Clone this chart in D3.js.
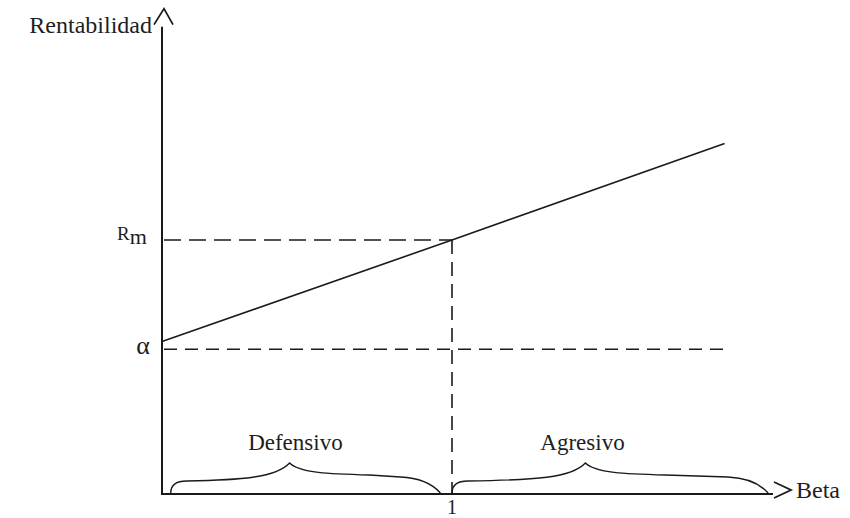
<!DOCTYPE html>
<html>
<head>
<meta charset="utf-8">
<script src="https://cdn.jsdelivr.net/npm/d3@7"></script>
<style>
  html, body { margin: 0; padding: 0; background: #fff; }
  svg { display: block; }
  text { font-family: "Liberation Serif", "DejaVu Serif", serif; fill: #1e1e1e; }
</style>
</head>
<body>
<svg id="chart" width="850" height="518"></svg>
<script>
// ---- data ----
const betaValues   = [0, 1, 1.94];        // beta along the security market line
const returnValues = [0.6, 1.0, 1.38];    // rentabilidad (Rm = 1)
const alphaLevel   = 0.57;                // alpha level (dashed)
const marketReturn = 1.0;                 // Rm
const marketBeta   = 1;                   // beta of the market
const alphaEndBeta = 1.94;
const braceNames   = ["Defensivo", "Agresivo"];
const braceStart   = [0.03, 1.0];
const braceCusp    = [0.44, 1.46];
const braceEnd     = [0.96, 2.09];
const braceLabelX  = [0.46, 1.45];
const yTickLabels  = ["α", "R", "1"];     // α, Rm, and beta 1
const axisLabels   = ["Rentabilidad", "Beta"];

// ---- scales ----
const svg = d3.select("#chart");
const x = d3.scaleLinear().domain([0, 1]).range([162, 452]);
const y = d3.scaleLinear().domain([0, 1]).range([494, 240]);
const xMax = 2.107, yMax = 1.84;
const ink = "#1a1a1a";

// axes
svg.append("line").attr("x1", x(0)).attr("x2", x(0)).attr("y1", y(0) + 1).attr("y2", y(yMax))
  .attr("stroke", ink).attr("stroke-width", 2);
svg.append("line").attr("x1", x(0)).attr("x2", x(xMax)).attr("y1", y(0)).attr("y2", y(0))
  .attr("stroke", ink).attr("stroke-width", 2);

// y arrow head (^)
svg.append("path")
  .attr("d", `M${x(0) - 8},${y(yMax) - 2} L${x(0) + 2},${y(yMax) - 18} L${x(0) + 11},${y(yMax) - 2}`)
  .attr("fill", "none").attr("stroke", ink).attr("stroke-width", 1.8);
// x arrow head (>)
const xa = x(xMax);
svg.append("path")
  .attr("d", `M${xa + 1},${y(0) - 12} L${xa + 18},${y(0) - 4} L${xa + 1},${y(0) + 4}`)
  .attr("fill", "none").attr("stroke", ink).attr("stroke-width", 1.8);

// dashed references
svg.append("line").attr("x1", x(0) + 2).attr("x2", x(marketBeta)).attr("y1", y(marketReturn)).attr("y2", y(marketReturn))
  .attr("stroke", ink).attr("stroke-width", 1.6).attr("stroke-dasharray", "17,8");
svg.append("line").attr("x1", x(0) + 2).attr("x2", x(alphaEndBeta)).attr("y1", y(alphaLevel)).attr("y2", y(alphaLevel))
  .attr("stroke", ink).attr("stroke-width", 1.5).attr("stroke-dasharray", "13,8");
svg.append("line").attr("x1", x(marketBeta)).attr("x2", x(marketBeta)).attr("y1", y(marketReturn)).attr("y2", y(0))
  .attr("stroke", ink).attr("stroke-width", 1.6).attr("stroke-dasharray", "14,8");

// security market line
const line = d3.line().x((d, i) => x(betaValues[i])).y(d => y(d));
svg.append("path").datum(returnValues).attr("d", line)
  .attr("fill", "none").attr("stroke", ink).attr("stroke-width", 1.6);

// braces
function bracePath(x0, xm, x1, y0) {
  return `M${x0},${y0} C${x0},${y0 - 9} ${x0 + 6},${y0 - 12} ${x0 + 16},${y0 - 12} ` +
         `C${xm - 50},${y0 - 13} ${xm - 14},${y0 - 15} ${xm},${y0 - 30} ` +
         `C${xm + 10},${y0 - 20} ${xm + 40},${y0 - 19} ${xm + 80},${y0 - 18} ` +
         `L${x1 - 40},${y0 - 16} C${x1 - 18},${y0 - 15} ${x1 - 7},${y0 - 8} ${x1},${y0}`;
}
braceNames.forEach((name, i) => {
  svg.append("path").attr("d", bracePath(x(braceStart[i]), x(braceCusp[i]), x(braceEnd[i]), y(0) - 1))
    .attr("fill", "none").attr("stroke", ink).attr("stroke-width", 1.4);
  svg.append("text").attr("x", x(braceLabelX[i])).attr("y", 450)
    .attr("text-anchor", "middle").attr("font-size", 23).text(name);
});

// axis labels
svg.append("text").attr("x", x(0) - 10).attr("y", 33).attr("text-anchor", "end")
  .attr("font-size", 24).text(axisLabels[0]);
svg.append("text").attr("x", xa + 23).attr("y", 498).attr("font-size", 24).text(axisLabels[1]);

// tick labels
svg.append("text").attr("x", x(0) - 19).attr("y", y(alphaLevel) + 5).attr("text-anchor", "middle")
  .attr("font-size", 26).text(yTickLabels[0]);
const rm = svg.append("text").attr("x", x(0) - 45).attr("y", y(marketReturn));
rm.append("tspan").attr("font-size", 19).text(yTickLabels[1]);
rm.append("tspan").attr("font-size", 22).attr("dy", 4).text("m");
svg.append("text").attr("x", x(marketBeta)).attr("y", 514).attr("text-anchor", "middle")
  .attr("font-size", 20).text(yTickLabels[2]);
</script>
</body>
</html>
